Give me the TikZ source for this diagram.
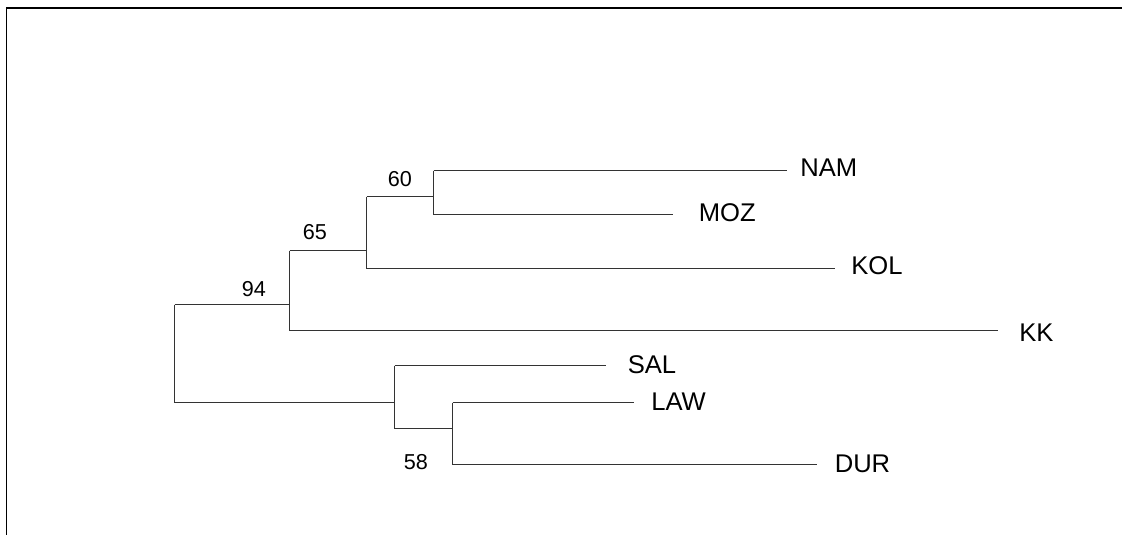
\documentclass[tikz,border=0pt]{standalone}
\usepackage{fontspec}
\setmainfont{Liberation Sans}
\begin{document}
\begin{tikzpicture}[x=0.75pt,y=-0.75pt,
  branch/.style={draw=black!80,line width=0.8pt},
  frame/.style={draw=black,line width=1pt},
  taxon/.style={anchor=west,inner sep=0pt,font=\fontsize{19.2}{21}\selectfont},
  support/.style={anchor=center,inner sep=0pt,font=\fontsize{16.2}{18}\selectfont}]
\useasboundingbox (0,0) rectangle (1122,535);
\draw[frame] (6.5,535) -- (6.5,8) -- (1122,8);
% internal nodes
\coordinate (r) at (174.5,353);
\coordinate (C) at (289.5,304.5);
\coordinate (B) at (366.5,250.5);
\coordinate (A) at (433.5,196.5);
\coordinate (E) at (394.5,402.5);
\coordinate (D) at (452.5,428.5);
% leaf ends
\coordinate (nam) at (786.7,170.5);
\coordinate (moz) at (673.3,214.5);
\coordinate (kol) at (835,268.5);
\coordinate (kk) at (998.3,330.5);
\coordinate (sal) at (606,365.5);
\coordinate (law) at (634.3,402.5);
\coordinate (dur) at (816.7,464.5);
% root
\draw[branch] (r |- C) -- (r |- E);
\draw[branch] (r |- C) -- (C);
\draw[branch] (r |- E) -- (E);
% C
\draw[branch] (C |- B) -- (C |- kk);
\draw[branch] (C |- B) -- (B);
\draw[branch] (C |- kk) -- (kk);
% B
\draw[branch] (B |- A) -- (B |- kol);
\draw[branch] (B |- A) -- (A);
\draw[branch] (B |- kol) -- (kol);
% A
\draw[branch] (A |- nam) -- (A |- moz);
\draw[branch] (A |- nam) -- (nam);
\draw[branch] (A |- moz) -- (moz);
% E
\draw[branch] (E |- sal) -- (E |- D);
\draw[branch] (E |- sal) -- (sal);
\draw[branch] (E |- D) -- (D);
% D
\draw[branch] (D |- law) -- (D |- dur);
\draw[branch] (D |- law) -- (law);
\draw[branch] (D |- dur) -- (dur);
% taxon labels
\node[taxon] (tNAM) at (800,167.5) {NAM};
\node[taxon] (tMOZ) at (698.5,213) {MOZ};
\node[taxon] (tKOL) at (851,265.5) {KOL};
\node[taxon] (tKK) at (1019,333) {KK};
\node[taxon] (tSAL) at (627.5,364.7) {SAL};
\node[taxon] (tLAW) at (651,401.5) {LAW};
\node[taxon] (tDUR) at (834.5,464) {DUR};
% support values
\node[support] (s94) at (254,289) {94};
\node[support] (s65) at (315,231.7) {65};
\node[support] (s60) at (400,179) {60};
\node[support] (s58) at (416,461.7) {58};
\end{tikzpicture}
\end{document}
